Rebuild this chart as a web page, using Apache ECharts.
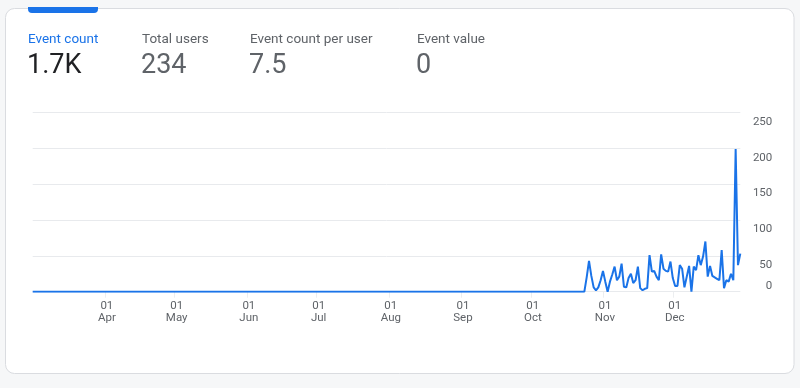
<!DOCTYPE html>
<html><head><meta charset="utf-8">
<script src="https://cdn.jsdelivr.net/npm/echarts@6/dist/echarts.min.js"></script>
<style>html,body{margin:0;padding:0;background:#f6f7f8}#c{width:800px;height:388px}</style>
</head><body><div id="c"></div>
<script>
// ---- data ----
const startDate = '2023-03-01';
// daily Event count, 1 Mar -> 23 Oct (flat at zero)
const flatValues = [
0,0,0,0,0,0,0,0,0,0,0,0,0,0,0,0,0,0,0,0,0,0,0,0,0,0,0,0,0,0,0,0,0,0,
0,0,0,0,0,0,0,0,0,0,0,0,0,0,0,0,0,0,0,0,0,0,0,0,0,0,0,0,0,0,0,0,0,0,
0,0,0,0,0,0,0,0,0,0,0,0,0,0,0,0,0,0,0,0,0,0,0,0,0,0,0,0,0,0,0,0,0,0,
0,0,0,0,0,0,0,0,0,0,0,0,0,0,0,0,0,0,0,0,0,0,0,0,0,0,0,0,0,0,0,0,0,0,
0,0,0,0,0,0,0,0,0,0,0,0,0,0,0,0,0,0,0,0,0,0,0,0,0,0,0,0,0,0,0,0,0,0,
0,0,0,0,0,0,0,0,0,0,0,0,0,0,0,0,0,0,0,0,0,0,0,0,0,0,0,0,0,0,0,0,0,0,
0,0,0,0,0,0,0,0,0,0,0,0,0,0,0,0,0,0,0,0,0,0,0,0,0,0,0,0,0,0,0,0,0,0
];
// daily Event count, 24 Oct -> 30 Dec
const tailValues = [
20,43,22,6,2,6,16,29,14,0,14,24,35,16,21,39,7,6,19,25,12,16,35,5,2,4,5,51,28,29,
21,16,52,32,29,28,42,19,8,8,37,32,6,21,36,0,35,30,51,37,49,70,21,36,22,20,18,16,
58,5,16,14,25,16,199,37,53
];
const monthTickDates = ['2023-04-01','2023-05-01','2023-06-01','2023-07-01','2023-08-01','2023-09-01','2023-10-01','2023-11-01','2023-12-01'];
const monthTickLabels = ['Apr','May','Jun','Jul','Aug','Sep','Oct','Nov','Dec'];
const dayTickLabel = '01';
const yTickValues = [0,50,100,150,200,250];
const kpiTitles = ['Event count','Total users','Event count per user','Event value'];
const kpiValues = ['1.7K','234','7.5','0'];

// ---- build ----
const DAY = 86400000;
function parseUTC(s){const p=s.split('-').map(Number);return Date.UTC(p[0],p[1]-1,p[2]);}
const values = flatValues.concat(tailValues);
const s0 = parseUTC(startDate);
const seriesData = values.map((v,i)=>[i, v]);
const tickIdx = monthTickDates.map(d=>Math.round((parseUTC(d)-s0)/DAY));

const FONT = 'Roboto, "Noto Sans", sans-serif';
const kpiX = [28,142,250,417];
const graphics = [
  {type:'rect', shape:{x:5.5,y:8.5,width:788.5,height:365,r:9}, style:{fill:'#ffffff',stroke:'#dadce0',lineWidth:1}, z:-10, silent:true},
  {type:'rect', shape:{x:28,y:7,width:70,height:6,r:[0,0,4,4]}, style:{fill:'#1a73e8'}, z:-5, silent:true}
];
kpiTitles.forEach((t,i)=>{
  graphics.push({type:'text', left:kpiX[i], top:32.5, style:{text:t, fill:i===0?'#1a73e8':'#5f6368', font:'13.5px '+FONT}});
  graphics.push({type:'text', left:kpiX[i]-1, top:53, style:{text:kpiValues[i], fill:i===0?'#202124':'#5f6368', font:'27px '+FONT}});
});

const chart = echarts.init(document.getElementById('c'));
chart.setOption({
  backgroundColor:'#f6f7f8',
  animation:false,
  graphic: graphics,
  grid:{left:32.7, right:59.7, top:112.3, bottom:96.3, containLabel:false},
  xAxis:{
    type:'value',
    min: 0,
    max: values.length-1,
    axisLine:{show:false},
    splitLine:{show:false},
    axisTick:{show:true, customValues:tickIdx, length:6, lineStyle:{color:'#eceef0'}},
    axisLabel:{
      customValues:tickIdx,
      formatter:function(v){const k=tickIdx.indexOf(v);return k<0?'':dayTickLabel+'\n'+monthTickLabels[k];},
      color:'#5f6368', fontSize:11.5, lineHeight:11.5, margin:9, fontFamily:FONT, hideOverlap:false,
      padding:[0,0,0,4]
    }
  },
  yAxis:{
    type:'value', position:'right', min:0, max:250, interval:50,
    axisLine:{show:false}, axisTick:{show:false},
    splitLine:{lineStyle:{color:'#e8eaed', width:1}},
    axisLabel:{
      formatter:function(v){return v===0?'{b|0}':'{t|'+v+'}';},
      align:'right', margin:32,
      rich:{
        t:{padding:[19,0,0,0], color:'#5f6368', fontSize:11.5, fontFamily:FONT},
        b:{padding:[0,0,11,0], color:'#5f6368', fontSize:11.5, fontFamily:FONT}
      }
    }
  },
  series:[{
    type:'line', data:seriesData, showSymbol:false, symbol:'none',
    lineStyle:{color:'#1a73e8', width:2}, itemStyle:{color:'#1a73e8'}
  }]
});
</script></body></html>
